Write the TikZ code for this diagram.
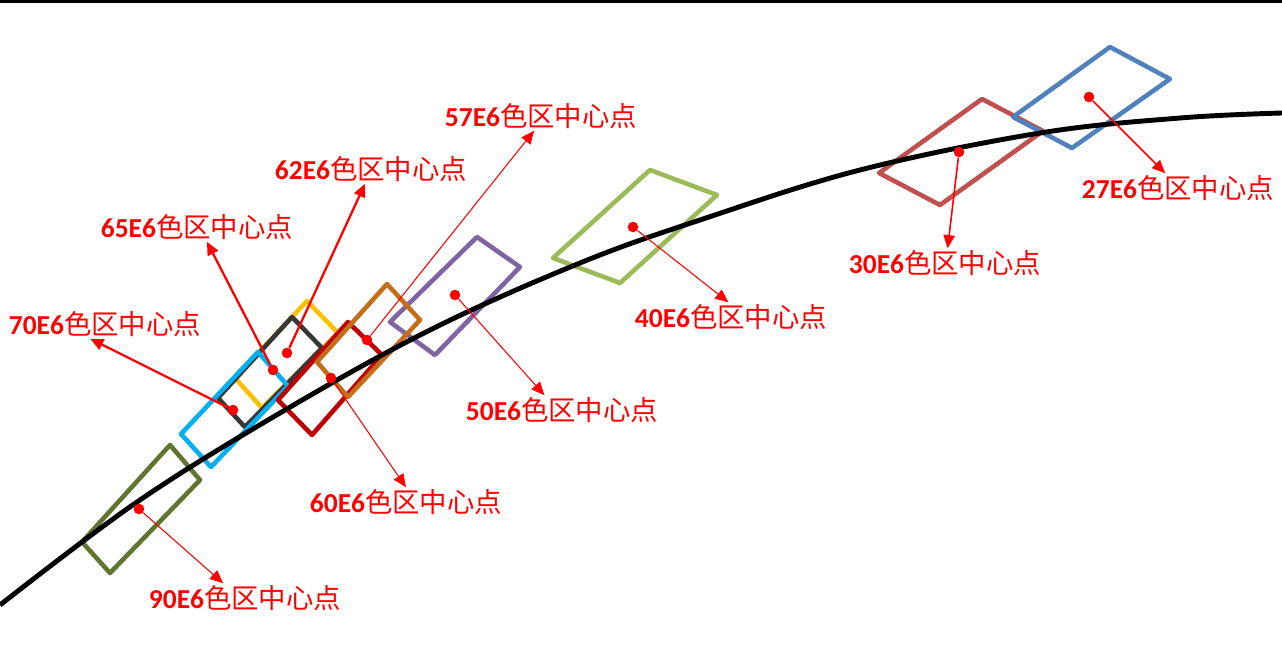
\documentclass[tikz,border=0pt]{standalone}
\usepackage{fontspec}
\setmainfont{Carlito}
\newfontfamily\cjk{Noto Sans CJK SC}
\usetikzlibrary{arrows.meta}
\definecolor{blue27}{RGB}{79,129,189}
\definecolor{red30}{RGB}{192,80,77}
\definecolor{green40}{RGB}{155,187,89}
\definecolor{purple50}{RGB}{128,100,162}
\definecolor{orange57}{RGB}{197,110,25}
\definecolor{red60}{RGB}{192,0,0}
\definecolor{yellow62}{RGB}{255,192,0}
\definecolor{gray65}{RGB}{55,55,55}
\definecolor{cyan70}{RGB}{0,176,240}
\definecolor{olive90}{RGB}{98,117,48}

\begin{document}
\begin{tikzpicture}[x=0.02cm,y=-0.02cm]
					\tikzstyle{region} = [line width=2.6pt,line join=round]
					\tikzstyle{cpoint} = [circle,fill=red,inner sep=0pt,minimum size=6pt]
					\tikzstyle{tag} = [text=red,font=\fontsize{15.6}{18}\selectfont,inner sep=1pt]
					\tikzstyle{thinarrow} = [red,line width=0.6pt,-{Triangle[length=7.5pt,width=6.5pt]}]
					\tikzstyle{midarrow} = [red,line width=0.9pt,-{Triangle[length=7.5pt,width=6.5pt]}]
					\tikzstyle{thickarrow} = [red,line width=1.3pt,-{Triangle[length=7.5pt,width=6.5pt]}]
					\useasboundingbox (0,0) rectangle (1282,648);
					\draw[line width=1.7pt] (0,1.5) -- (1282,1.5);
					\draw[region,purple50] (477,237) -- (520,267) -- (435,355) -- (390,322) -- cycle;
					\draw[region,green40] (650,170) -- (717,195) -- (620,283) -- (553,258) -- cycle;
					\draw[region,red30] (982,99) -- (1043,131) -- (940,205) -- (879,173) -- cycle;
					\draw[region,blue27] (1110,47) -- (1170,79) -- (1072,148) -- (1013,117) -- cycle;
					\draw[region,yellow62] (307,301) -- (338,333) -- (262,408) -- (235,378) -- cycle;
					\draw[region,gray65] (292,317) -- (322,348) -- (245,427) -- (218,398) -- cycle;
					\draw[region,cyan70] (258,352) -- (288,386) -- (211,467) -- (181,434) -- cycle;
					\draw[region,olive90] (170,445) -- (200,480) -- (110,573) -- (82,542) -- cycle;
					\draw[region,red60] (348,322) -- (382,355) -- (312,435) -- (278,400) -- cycle;
					\draw[region,orange57] (387,284) -- (420,320) -- (348,397) -- (317,362) -- cycle;
					\draw[line width=2.8pt] plot[smooth,tension=0.6] coordinates {(0,605) (137,502) (280,413) (430,330) (580,263) (700,220) (860,170) (1040,133) (1180,118) (1282,113)};
					\node[cpoint] (d27) at (1089,97) {};
					\node[cpoint] (d30) at (959,152) {};
					\node[cpoint] (d40) at (633,227) {};
					\node[cpoint] (d50) at (455,295) {};
					\node[cpoint] (d57) at (367,340) {};
					\node[cpoint] (d60) at (331,378) {};
					\node[cpoint] (d62) at (287,353) {};
					\node[cpoint] (d65) at (273,370) {};
					\node[cpoint] (d70) at (233,410) {};
					\node[cpoint] (d90) at (139,509) {};
					\node[tag] (l27) at (1178,188) {\textbf{27E6}{\cjk 色区中心点}};
					\node[tag] (l30) at (945,263) {\textbf{30E6}{\cjk 色区中心点}};
					\node[tag] (l40) at (731,317) {\textbf{40E6}{\cjk 色区中心点}};
					\node[tag] (l50) at (562,410) {\textbf{50E6}{\cjk 色区中心点}};
					\node[tag] (l57) at (541,116) {\textbf{57E6}{\cjk 色区中心点}};
					\node[tag] (l60) at (406,502) {\textbf{60E6}{\cjk 色区中心点}};
					\node[tag] (l62) at (371,169) {\textbf{62E6}{\cjk 色区中心点}};
					\node[tag] (l65) at (197,227) {\textbf{65E6}{\cjk 色区中心点}};
					\node[tag] (l70) at (105,324) {\textbf{70E6}{\cjk 色区中心点}};
					\node[tag] (l90) at (245,598) {\textbf{90E6}{\cjk 色区中心点}};
					\draw[midarrow] (d27) -- (l27.131);
					\draw[midarrow] (d30) -- (l30.80);
					\draw[thinarrow] (d40) -- (l40.100);
					\draw[thinarrow] (d50) -- (l50.140);
					\draw[thinarrow] (d57) -- (l57.245);
					\draw[thinarrow] (d60) -- (l60.north);
					\draw[thickarrow] (d62) -- (l62.248);
					\draw[thickarrow] (d65) -- (l65.304);
					\draw[thickarrow] (d70) -- (l70.225);
					\draw[thinarrow] (d90) -- (l90.146);
\end{tikzpicture}
\end{document}
